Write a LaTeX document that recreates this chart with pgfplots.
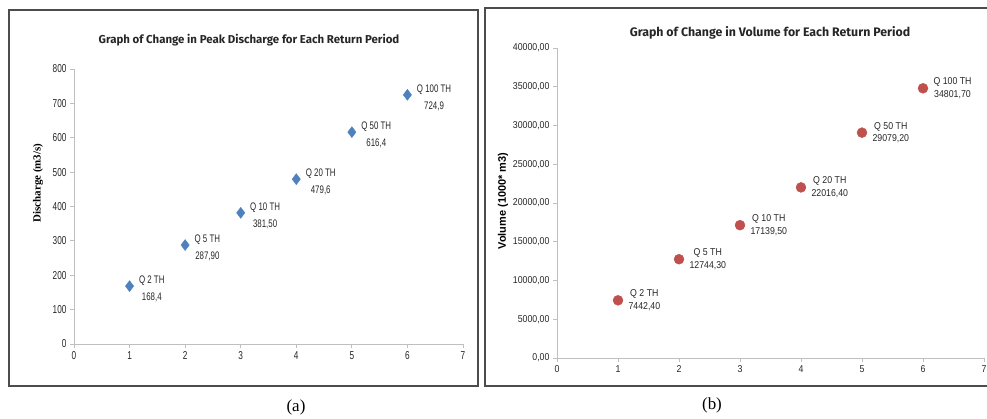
\documentclass[border=0pt]{standalone}
\usepackage{fontspec}
\setmainfont{Liberation Sans}
\usepackage{pgfplots}
\pgfplotsset{compat=1.18}
\newfontfamily\narrowA[FakeStretch=0.72]{Liberation Sans}
\newfontfamily\narrowB[FakeStretch=0.88]{Liberation Sans}
\newfontfamily\titlefont{Fira Sans}
\newfontfamily\serifb{Liberation Serif}
\definecolor{qblue}{HTML}{4F81BD}
\definecolor{qred}{HTML}{C0504D}
\definecolor{axgray}{HTML}{BFBFBF}
\begin{document}
\begin{tikzpicture}
\path[use as bounding box] (0,0) rectangle (987bp,-419bp);
\draw[line width=1.3bp, black!70] (9bp,-10bp) rectangle (478bp,-386bp);
\draw[line width=1.3bp, black!70] (992bp,-8bp) -- (485bp,-8bp) -- (485bp,-386bp) -- (992bp,-386bp);

\begin{axis}[
 at={(74bp,-344bp)}, anchor=south west, scale only axis, width=389bp, height=275bp,
 xmin=0,xmax=7,ymin=0,ymax=800,
 axis x line=bottom, axis y line=left,
 axis line style={draw=axgray, line width=0.8bp, -},
 xtick={0,...,7}, ytick={0,100,...,800},
 tick align=outside, major tick length=4bp, tick style={draw=axgray, line width=0.8bp},
 ticklabel style={font=\narrowA\fontsize{11.5}{11.5}\selectfont, text=black!85},
 /pgf/number format/assume math mode=true,
 clip=false,
 nodes near coords, point meta=explicit symbolic,
 every node near coord/.append style={anchor=west, align=center, font=\narrowA\fontsize{11}{17}\selectfont, xshift=6bp, yshift=-3bp, text=black!85},
]
\addplot[only marks, mark=diamond*, mark size=5.5bp, color=qblue] coordinates {
(1,168.4) [{Q 2 TH\\168,4}]
(2,287.9) [{Q 5 TH\\287,90}]
(3,381.5) [{Q 10 TH\\381,50}]
(4,479.6) [{Q 20 TH\\479,6}]
(5,616.4) [{Q 50 TH\\616,4}]
(6,724.9) [{Q 100 TH\\724,9}]
};
\end{axis}

\begin{axis}[
 at={(557bp,-358bp)}, anchor=south west, scale only axis, width=427bp, height=310bp,
 xmin=0,xmax=7,ymin=0,ymax=40000,
 axis x line=bottom, axis y line=left,
 axis line style={draw=axgray, line width=0.8bp, -},
 xtick={0,...,7}, ytick={0,5000,...,40000},
 yticklabels={{0,00},{5000,00},{10000,00},{15000,00},{20000,00},{25000,00},{30000,00},{35000,00},{40000,00}},
 scaled y ticks=false,
 tick align=outside, major tick length=4bp, tick style={draw=axgray, line width=0.8bp},
 ticklabel style={font=\narrowB\fontsize{10}{10}\selectfont, text=black!85},
 /pgf/number format/assume math mode=true,
 clip=false,
 nodes near coords, point meta=explicit symbolic,
 every node near coord/.append style={anchor=west, align=center, font=\narrowB\fontsize{10}{13}\selectfont, xshift=7bp, yshift=0bp, text=black!85},
]
\addplot[only marks, mark=*, mark size=5bp, color=qred] coordinates {
(1,7442.4) [{Q 2 TH\\7442,40}]
(2,12744.3) [{Q 5 TH\\12744,30}]
(3,17139.5) [{Q 10 TH\\17139,50}]
(4,22016.4) [{Q 20 TH\\22016,40}]
(5,29079.2) [{Q 50 TH\\29079,20}]
(6,34801.7) [{Q 100 TH\\34801,70}]
};
\end{axis}

\node[font=\titlefont\bfseries\fontsize{11.5}{13}\selectfont, text=black!85] at (249bp,-40bp) {Graph of Change in Peak Discharge for Each Return Period};
\node[font=\titlefont\bfseries\fontsize{12.4}{14}\selectfont, text=black!85] at (770bp,-33bp) {Graph of Change in Volume for Each Return Period};
\node[rotate=90, font=\serifb\bfseries\fontsize{11}{12}\selectfont] at (38bp,-183bp) {Discharge (m3/s)};
\node[rotate=90, font=\bfseries\fontsize{11}{12}\selectfont] at (503bp,-201bp) {Volume (1000* m3)};
\node[font=\serifb\fontsize{17}{20}\selectfont] at (296bp,-407bp) {(a)};
\node[font=\serifb\fontsize{17}{20}\selectfont] at (712bp,-405bp) {(b)};
\end{tikzpicture}
\end{document}
